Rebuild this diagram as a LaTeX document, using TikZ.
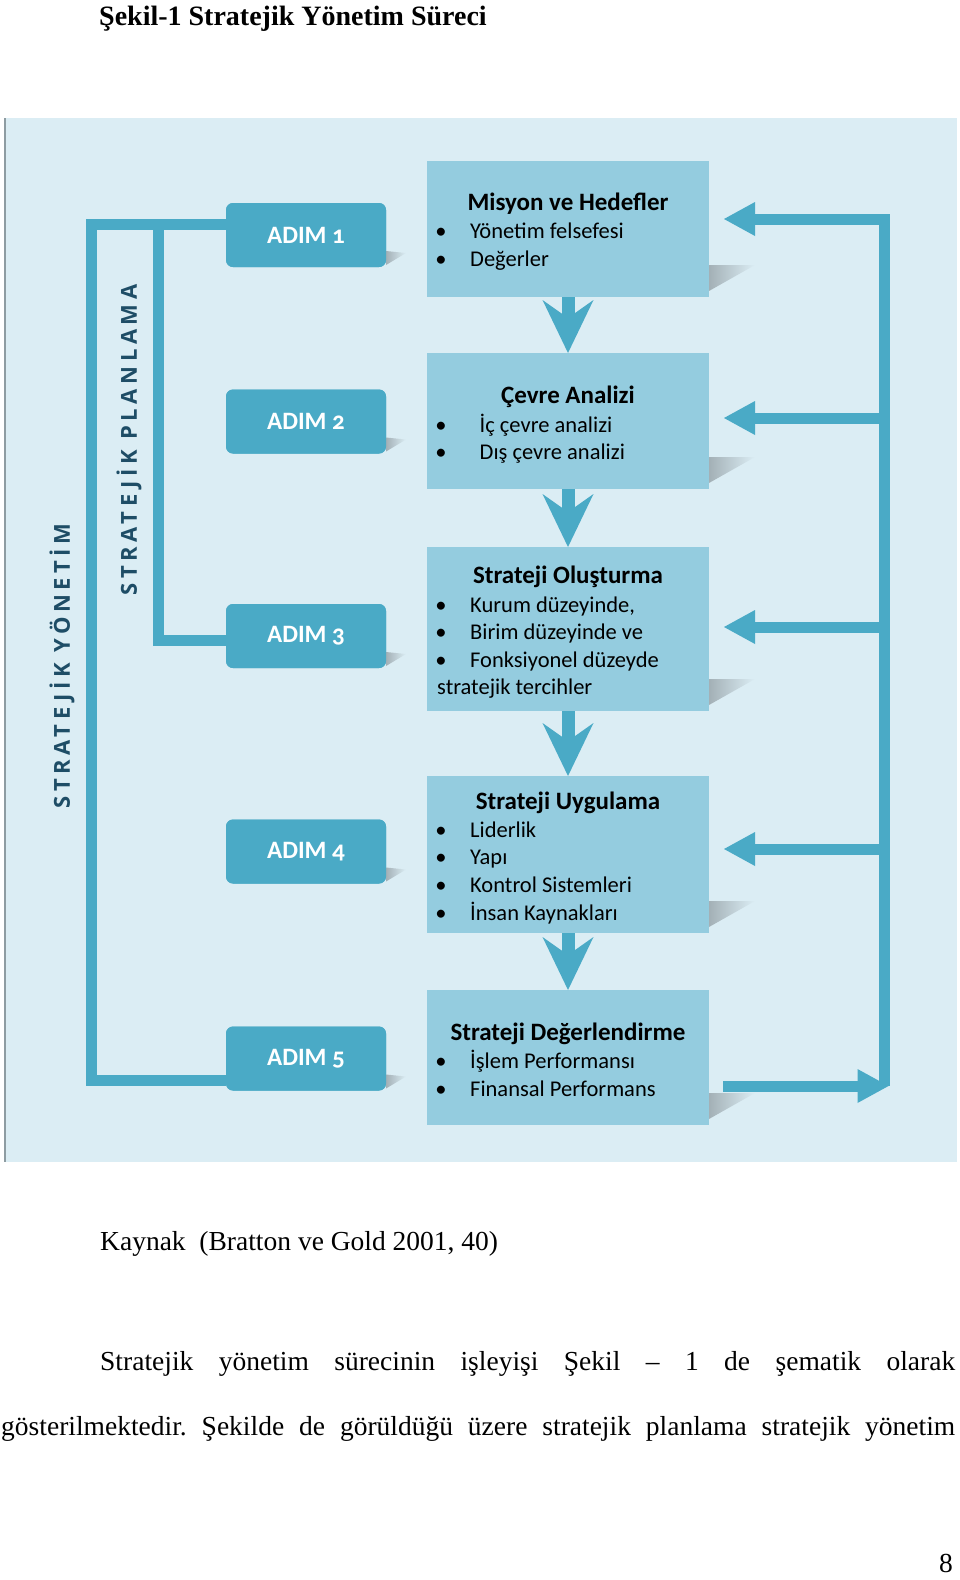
\documentclass[tikz,border=0pt]{standalone}
\usepackage{fontspec}
\setmainfont{Liberation Serif}
\newfontfamily\cfont{Carlito}
\newfontfamily\afont[Numbers=OldStyle]{Carlito}
\newfontfamily\vfont[LetterSpace=21]{Open Sans}
\usetikzlibrary{arrows.meta,calc}
\definecolor{panelbg}{HTML}{DBEDF4}
\definecolor{boxfill}{HTML}{94CCDF}
\definecolor{stepblue}{HTML}{4AAAC6}
\definecolor{labelblue}{HTML}{1E4D66}
\definecolor{shadowgray}{HTML}{A3B0B6}
\definecolor{bordergray}{HTML}{8E9CA2}
\newcommand\itemline[4]{%
  \node[bulletmark] (#1b) at (441,#3) {\textbullet};
  \node[itemtext] (#1) at (#2,#3) {#4};}
\frenchspacing
\begin{document}
\begin{tikzpicture}[x=1pt,y=-1pt,
  contentbox/.style={fill=boxfill, minimum width=282pt, minimum height=#1, inner sep=0pt, outer sep=0pt},
  stepbox/.style={fill=stepblue, rounded corners=7pt, minimum width=160pt, minimum height=64pt, inner sep=0pt, outer sep=0pt, text=white, font=\afont\bfseries\fontsize{25pt}{30pt}\selectfont},
  link/.style={draw=stepblue, line width=11pt},
  feedback/.style={draw=stepblue, line width=11pt, -{Triangle[length=31pt,width=34pt,line width=0pt]}},
  downflow/.style={draw=stepblue, line width=13pt, -{Stealth[length=53pt,width=51pt,inset=18pt,line width=0pt]}},
  boxtitle/.style={anchor=base, inner sep=0pt, font=\cfont\bfseries\fontsize{25pt}{30pt}\selectfont},
  itemtext/.style={anchor=base west, inner sep=0pt, font=\cfont\fontsize{22.5pt}{27pt}\selectfont},
  bulletmark/.style={anchor=base, inner sep=0pt, font=\cfont\fontsize{22.5pt}{27pt}\selectfont},
  vlabel/.style={inner sep=0pt, text=labelblue, font=\vfont\bfseries\fontsize{22pt}{26pt}\selectfont},
  pagetext/.style={anchor=base west, inner sep=0pt, font=\fontsize{27.5pt}{33pt}\selectfont}
]
\useasboundingbox (0,0) rectangle (960,1580);

% page title
\node[anchor=base west, inner sep=0pt, font=\bfseries\fontsize{28pt}{33pt}\selectfont] (title) at (99,25) {Şekil-1 Stratejik Yönetim Süreci};

% panel
\fill[panelbg] (4,118) rectangle (957,1162);
\draw[bordergray, line width=1.5pt] (4.75,118) -- (4.75,1162);

% step boxes (placed first so the brackets can refer to them)
\node[stepbox] (a1) at (306,235) {ADIM 1};
\node[stepbox] (a2) at (306,421.5) {ADIM 2};
\node[stepbox] (a3) at (306,636) {ADIM 3};
\node[stepbox] (a4) at (306,851.5) {ADIM 4};
\node[stepbox] (a5) at (306,1058.5) {ADIM 5};

% left brackets
\coordinate (oTL) at (91,224);
\coordinate (oBL) at (91,1080);
\coordinate (iTL) at (158,224);
\coordinate (iBL) at (158,640);
\draw[link] (a1.west |- oTL) -- (oTL) -- (oBL) -- (a5.west |- oBL);
\draw[link] (iTL) -- (iBL) -- (a3.west |- iBL);

% shadows of step boxes
\foreach \s in {a1,a2,a3,a4,a5}{
  \shade[left color=shadowgray, right color=panelbg]
    ($(\s.south east)+(0,-16)$) -- ++(20,2) -- ($(\s.south east)+(0,-2)$) -- cycle;
}
% step boxes again, on top of the bracket lines
\node[stepbox] at (a1) {ADIM 1};
\node[stepbox] at (a2) {ADIM 2};
\node[stepbox] at (a3) {ADIM 3};
\node[stepbox] at (a4) {ADIM 4};
\node[stepbox] at (a5) {ADIM 5};

% content boxes with shadows
\coordinate (c1) at (568,229);
\coordinate (c2) at (568,421);
\coordinate (c3) at (568,629);
\coordinate (c4) at (568,854.5);
\coordinate (c5) at (568,1057.5);
\node[contentbox=136pt] (b1) at (c1) {};
\node[contentbox=136pt] (b2) at (c2) {};
\node[contentbox=164pt] (b3) at (c3) {};
\node[contentbox=157pt] (b4) at (c4) {};
\node[contentbox=135pt] (b5) at (c5) {};
\foreach \s in {b1,b2,b3,b4,b5}{
  \shade[left color=shadowgray, right color=panelbg]
    ($(\s.south east)+(0,-32)$) -- ++(46,0) -- ($(\s.south east)+(0,-6)$) -- cycle;
}

% flow arrows between content boxes
\draw[downflow] (b1.south) -- (b2.north);
\draw[downflow] (b2.south) -- (b3.north);
\draw[downflow] (b3.south) -- (b4.north);
\draw[downflow] (b4.south) -- (b5.north);

% feedback loop on the right
\coordinate (rT) at (884,219);
\coordinate (rB) at (884,1086);
\coordinate (r2) at (884,418);
\coordinate (r3) at (884,627);
\coordinate (r4) at (884,849);
\draw[link] (rB) -- (rT);
\draw[feedback] ($(b5.east |- rB)+(14,0)$) -- ($(rB)+(4.5,0)$);
\draw[feedback] ($(rT)+(5.5,0)$) -- ($(b1.east |- rT)+(15,0)$);
\draw[feedback] (r2) -- ($(b2.east |- r2)+(15,0)$);
\draw[feedback] (r3) -- ($(b3.east |- r3)+(15,0)$);
\draw[feedback] (r4) -- ($(b4.east |- r4)+(15,0)$);

% vertical labels
\node[vlabel, rotate=90] (sy) at (62,666) {STRATEJİK YÖNETİM};
\node[vlabel, rotate=90] (sp) at (129,440) {STRATEJİK PLANLAMA};

% box texts
\node[boxtitle] (t1) at (568,210) {Misyon ve Hedefler};
\itemline{t1a}{470}{238.2}{Yönetim felsefesi}
\itemline{t1c}{470}{266.5}{Değerler}

\node[boxtitle] (t2) at (568,403.5) {Çevre Analizi};
\itemline{t2a}{479.5}{432.5}{İç çevre analizi}
\itemline{t2c}{479.5}{459.5}{Dış çevre analizi}

\node[boxtitle] (t3) at (568,583.5) {Strateji Oluşturma};
\itemline{t3a}{470}{612}{Kurum düzeyinde,}
\itemline{t3c}{470}{639}{Birim düzeyinde ve}
\itemline{t3d}{470}{667.5}{Fonksiyonel düzeyde}
\node[itemtext] (t3e) at (437,694.5) {stratejik tercihler};

\node[boxtitle] (t4) at (568,809.5) {Strateji Uygulama};
\itemline{t4a}{470}{837.5}{Liderlik}
\itemline{t4c}{470}{864.5}{Yapı}
\itemline{t4d}{470}{892}{Kontrol Sistemleri}
\itemline{t4e}{470}{920}{İnsan Kaynakları}

\node[boxtitle] (t5) at (568,1040) {Strateji Değerlendirme};
\itemline{t5a}{470}{1068.5}{İşlem Performansı}
\itemline{t5c}{470}{1096.5}{Finansal Performans}

% page text
\node[pagetext] (src) at (100,1250) {Kaynak\ \ (Bratton ve Gold 2001, 40)};
\node[pagetext] (p1) at (100,1370) {\makebox[855pt][s]{Stratejik yönetim sürecinin işleyişi Şekil – 1 de şematik olarak}};
\node[pagetext] (p2) at (1,1435) {\makebox[954pt][s]{gösterilmektedir. Şekilde de görüldüğü üzere stratejik planlama stratejik yönetim}};
\node[pagetext, anchor=base] (pn) at (946,1572) {8};
\end{tikzpicture}
\end{document}
